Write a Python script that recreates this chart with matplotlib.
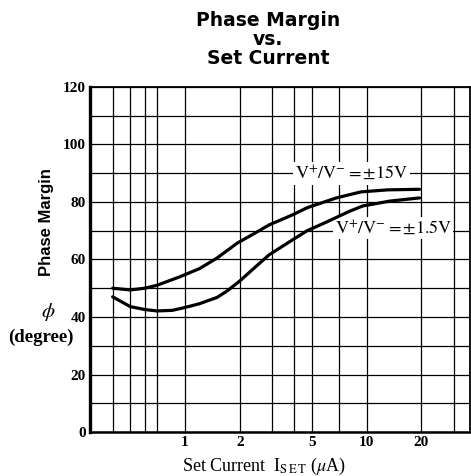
import matplotlib
matplotlib.use("Agg")
import matplotlib.pyplot as plt

# ---- data ----
x_hi = [0.4, 0.5, 0.6, 0.7, 0.93, 1.2, 1.5, 1.94, 2.4, 2.9, 3.9, 4.7, 6.8, 9.3, 13, 19.5]
y_hi = [50.0, 49.4, 50.0, 51.0, 53.9, 56.8, 60.5, 65.7, 69.0, 72.0, 75.5, 78.0, 81.4, 83.5, 84.2, 84.4]

x_lo = [0.4, 0.5, 0.6, 0.7, 0.85, 1.0, 1.2, 1.5, 1.7, 2.0, 2.4, 2.9, 3.9, 4.7, 6.0, 8.0, 9.5, 13.4, 19.5]
y_lo = [47.0, 43.6, 42.6, 42.1, 42.3, 43.3, 44.6, 46.8, 49.0, 52.5, 57.0, 61.6, 66.8, 70.0, 73.0, 76.7, 78.6, 80.3, 81.4]

x_grid = [0.4, 0.5, 0.6, 0.7, 1, 2, 3, 4, 5, 7, 10, 20, 30]
x_labeled = {1: "1", 2: "2", 5: "5", 10: "10", 20: "20"}
y_ticks = [0, 10, 20, 30, 40, 50, 60, 70, 80, 90, 100, 110, 120]
y_labeled = {0: "0", 20: "20", 40: "40", 60: "60", 80: "80", 100: "100", 120: "120"}

label_hi = r"$\mathrm{V^{+}/V^{-}} = \pm\mathrm{15V}$"
label_lo = r"$\mathrm{V^{+}/V^{-}} = \pm\mathrm{1.5V}$"

plt.rcParams['font.family'] = ['Liberation Serif', 'DejaVu Serif']
plt.rcParams['mathtext.fontset'] = 'stix'

fig = plt.figure(figsize=(4.71, 4.76), dpi=100)
ax = fig.add_axes([0.191, 0.0924, 0.807, 0.725])

ax.set_xscale('log')
ax.set_xlim(0.3, 37)
ax.set_ylim(0, 120)

ax.set_xticks(x_grid)
ax.set_xticklabels([x_labeled.get(v, "") for v in x_grid])
ax.xaxis.set_minor_locator(matplotlib.ticker.NullLocator())
ax.set_yticks(y_ticks)
ax.set_yticklabels([y_labeled.get(v, "") for v in y_ticks])
ax.tick_params(length=0, labelsize=11, pad=3)
for lab in ax.get_xticklabels() + ax.get_yticklabels():
    lab.set_fontweight('bold')

ax.grid(True, color='black', linewidth=0.9)
ax.set_axisbelow(True)

ax.spines['left'].set_linewidth(2.4)
ax.spines['bottom'].set_linewidth(1.8)
ax.spines['top'].set_linewidth(1.3)
ax.spines['right'].set_linewidth(1.3)

ax.plot(x_hi, y_hi, color='black', linewidth=2.3, solid_capstyle='round',
        solid_joinstyle='round', zorder=3)
ax.plot(x_lo, y_lo, color='black', linewidth=2.3, solid_capstyle='round',
        solid_joinstyle='round', zorder=3)

ax.text(8.2, 90, label_hi, ha='center', va='center', fontsize=13, zorder=1.5,
        bbox=dict(facecolor='white', edgecolor='none', pad=1.5))
ax.text(14.0, 71, label_lo, ha='center', va='center', fontsize=13, zorder=1.5,
        bbox=dict(facecolor='white', edgecolor='none', pad=1.0))

fig.text(0.569, 0.918, "Phase Margin\nvs.\nSet Current", ha='center', va='center',
         fontsize=13.5, fontweight='heavy', family='DejaVu Sans', linespacing=1.0,
         multialignment='center')

fig.text(47/471, 1-222/476, "Phase Margin", rotation=90, ha='center', va='center',
         fontsize=12, fontweight='bold', family='Liberation Sans')
fig.text(48/471, 1-312/476, r"$\phi$", ha='center', va='center', fontsize=15)
fig.text(41/471, 1-337/476, "(degree)", ha='center', va='center', fontsize=13.5, fontweight='bold')

fig.text(264/471, 1-466/476, r"Set Current  I$_{\mathrm{S\,E\,T}}$ ($\mu$A)", ha='center', va='center',
         fontsize=13)

fig.savefig("out.png", dpi=100)
